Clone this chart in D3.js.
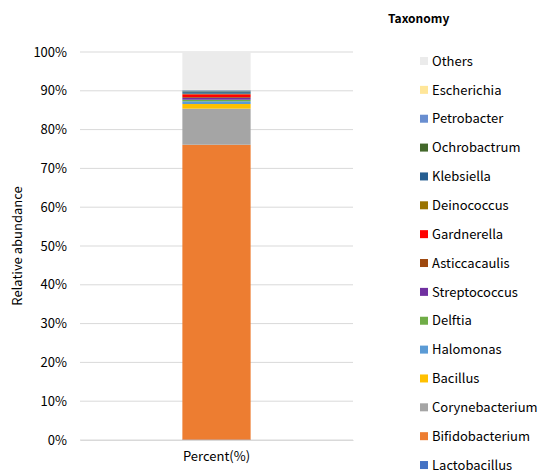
<!DOCTYPE html>
<html>
<head>
<meta charset="utf-8">
<script src="https://cdn.jsdelivr.net/npm/d3@7"></script>
<style>
  body { margin: 0; background: #fff; }
  text { font-family: "Noto Sans CJK JP", "Noto Sans", sans-serif; fill: #000; }
</style>
</head>
<body>
<div id="chart"></div>
<script>
// Taxa from bottom of stack to top
const taxa = ["Lactobacillus", "Bifidobacterium", "Corynebacterium", "Bacillus", "Halomonas",
    "Delftia", "Streptococcus", "Asticcacaulis", "Gardnerella", "Deinococcus",
    "Klebsiella", "Ochrobactrum", "Petrobacter", "Escherichia", "Others"];
const values = [0.1, 76.0, 9.3, 1.2, 0.7, 0.4, 0.5, 0.2, 0.7, 0.15, 0.4, 0.2, 0.3, 0.1, 9.75];
const colors = ["#4472c4", "#ed7d31", "#a5a5a5", "#ffc000", "#5b9bd5",
    "#70ad47", "#7030a0", "#9e480e", "#ff0000", "#997300",
    "#255e91", "#43682b", "#698ed0", "#ffe699", "#ebebeb"];
const categories = ["Percent(%)"];
const yTicks = [0, 10, 20, 30, 40, 50, 60, 70, 80, 90, 100];

const W = 539, H = 473;
const margin = { top: 52, left: 80, right: 186, bottom: 33 };
const width = W - margin.left - margin.right;
const height = H - margin.top - margin.bottom;

const svg = d3.select("#chart").append("svg")
    .attr("width", W).attr("height", H);
const g = svg.append("g").attr("transform", `translate(${margin.left},${margin.top})`);

const x = d3.scaleBand().domain(categories).range([0, width]).padding(0.6);
const y = d3.scaleLinear().domain([0, 100]).range([height, 0]);

// gridlines
g.selectAll(".grid").data(yTicks).enter().append("line")
    .attr("x1", 0).attr("x2", width)
    .attr("y1", d => y(d)).attr("y2", d => y(d))
    .attr("stroke", "#d9d9d9").attr("stroke-width", 1);

// stacked segments
const rows = [Object.fromEntries(taxa.map((t, i) => [t, values[i]]))];
const stack = d3.stack().keys(taxa)(rows);
const color = d3.scaleOrdinal().domain(taxa).range(colors);

g.selectAll(".seg").data(stack).enter().append("rect")
    .attr("x", x(categories[0]))
    .attr("width", x.bandwidth())
    .attr("y", d => y(d[0][1]))
    .attr("height", d => y(d[0][0]) - y(d[0][1]))
    .attr("fill", d => color(d.key));

// y axis
const yAxis = g.append("g")
    .call(d3.axisLeft(y).tickValues(yTicks).tickFormat(d => d + "%").tickSize(0).tickPadding(13));
yAxis.select(".domain").remove();
yAxis.selectAll("text").style("font-size", "13px").style("font-family", "'Noto Sans CJK JP', sans-serif");

// x axis
const xAxis = g.append("g").attr("transform", `translate(0,${height})`)
    .call(d3.axisBottom(x).tickSize(0).tickPadding(12));
xAxis.select(".domain").attr("stroke", "#d9d9d9");
xAxis.selectAll("text").style("font-size", "13px").style("font-family", "'Noto Sans CJK JP', sans-serif");

// axis title
svg.append("text")
    .attr("transform", `translate(22,${margin.top + height / 2}) rotate(-90)`)
    .attr("text-anchor", "middle")
    .style("font-size", "13px")
    .text("Relative abundance");

// legend
svg.append("text")
    .attr("x", 388).attr("y", 23)
    .style("font-size", "12px").style("font-weight", "bold")
    .text("Taxonomy");

const legendOrder = taxa.slice().reverse();
const leg = svg.selectAll(".leg").data(legendOrder).enter().append("g")
    .attr("transform", (d, i) => `translate(420,${61 + i * 28.86})`);
leg.append("rect")
    .attr("x", 0).attr("y", -4).attr("width", 8).attr("height", 8)
    .attr("fill", d => color(d));
leg.append("text")
    .attr("x", 12).attr("y", 0).attr("dy", "0.36em")
    .style("font-size", "13px")
    .text(d => d);
</script>
</body>
</html>
